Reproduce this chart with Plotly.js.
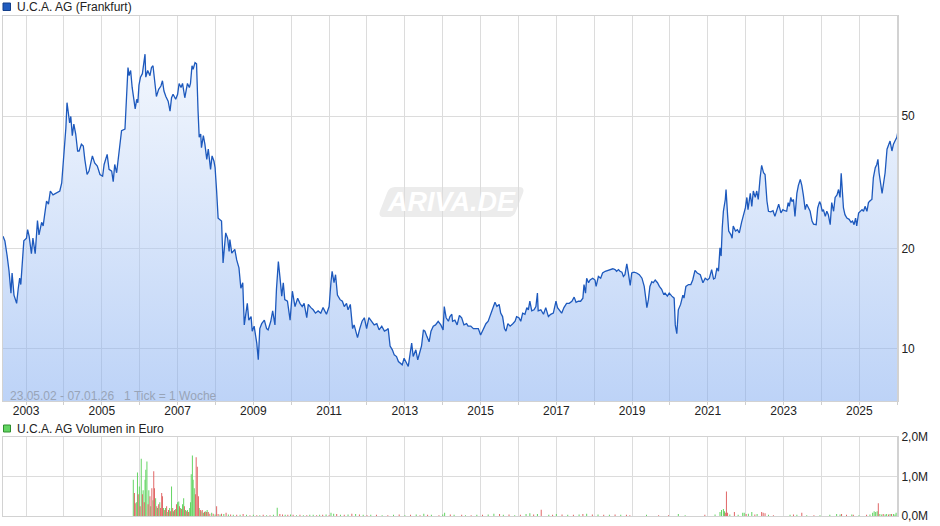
<!DOCTYPE html>
<html>
<head>
<meta charset="utf-8">
<script src="https://cdn.plot.ly/plotly-3.0.1.min.js"></script>
<style>html,body{margin:0;padding:0;background:#fff;}#chart{width:940px;height:526px;}</style>
</head>
<body>
<div id="chart"></div>
<script>
// ---- Data (decimal years, EUR) ----
const priceYears = [
2002.39,2002.44,2002.50,2002.55,2002.60,2002.63,2002.68,2002.75,2002.79,2002.83,
2002.86,2002.90,2002.94,2003.01,2003.04,2003.08,2003.14,2003.18,2003.24,2003.30,
2003.34,2003.41,2003.45,2003.49,2003.54,2003.59,2003.64,2003.71,2003.78,2003.85,
2003.89,2003.94,2003.98,2004.00,2004.05,2004.08,2004.12,2004.15,2004.18,2004.22,
2004.26,2004.31,2004.36,2004.40,2004.46,2004.51,2004.55,2004.61,2004.66,2004.70,
2004.75,2004.81,2004.88,2004.95,2005.02,2005.06,2005.11,2005.14,2005.19,2005.26,
2005.30,2005.34,2005.39,2005.45,2005.49,2005.52,2005.61,2005.65,2005.69,2005.72,
2005.76,2005.80,2005.84,2005.88,2005.92,2005.95,2005.98,2006.02,2006.07,2006.11,
2006.14,2006.16,2006.21,2006.27,2006.31,2006.35,2006.40,2006.44,2006.50,2006.56,
2006.60,2006.64,2006.69,2006.75,2006.80,2006.84,2006.88,2006.95,2007.00,2007.04,
2007.09,2007.13,2007.19,2007.24,2007.26,2007.31,2007.34,2007.38,2007.41,2007.46,
2007.50,2007.54,2007.57,2007.61,2007.63,2007.68,2007.72,2007.77,2007.81,2007.87,
2007.91,2007.96,2007.99,2008.03,2008.07,2008.16,2008.20,2008.27,2008.32,2008.36,
2008.38,2008.43,2008.51,2008.56,2008.62,2008.67,2008.72,2008.76,2008.80,2008.84,
2008.88,2008.94,2008.97,2009.02,2009.09,2009.13,2009.17,2009.22,2009.29,2009.35,
2009.39,2009.46,2009.51,2009.57,2009.61,2009.66,2009.70,2009.75,2009.79,2009.83,
2009.90,2009.97,2010.03,2010.10,2010.17,2010.23,2010.29,2010.34,2010.41,2010.45,
2010.52,2010.58,2010.64,2010.71,2010.78,2010.84,2010.93,2011.00,2011.05,2011.08,
2011.13,2011.17,2011.22,2011.29,2011.35,2011.40,2011.46,2011.50,2011.56,2011.62,
2011.66,2011.70,2011.75,2011.81,2011.87,2011.93,2011.99,2012.05,2012.12,2012.19,
2012.26,2012.32,2012.39,2012.46,2012.52,2012.56,2012.61,2012.67,2012.72,2012.78,
2012.83,2012.87,2012.93,2012.98,2013.05,2013.09,2013.14,2013.18,2013.22,2013.29,
2013.34,2013.40,2013.44,2013.49,2013.53,2013.58,2013.64,2013.69,2013.75,2013.81,
2013.88,2013.95,2014.01,2014.04,2014.09,2014.15,2014.19,2014.24,2014.26,2014.32,
2014.38,2014.44,2014.50,2014.56,2014.63,2014.67,2014.74,2014.81,2014.88,2014.94,
2015.00,2015.07,2015.14,2015.20,2015.27,2015.32,2015.38,2015.43,2015.49,2015.53,
2015.58,2015.63,2015.67,2015.72,2015.78,2015.85,2015.91,2015.95,2016.01,2016.06,
2016.11,2016.17,2016.22,2016.26,2016.30,2016.35,2016.41,2016.46,2016.50,2016.52,
2016.59,2016.66,2016.72,2016.79,2016.85,2016.92,2016.99,2017.03,2017.08,2017.14,
2017.20,2017.27,2017.34,2017.41,2017.47,2017.52,2017.58,2017.64,2017.70,2017.73,
2017.77,2017.80,2017.85,2017.89,2017.96,2018.02,2018.05,2018.11,2018.17,2018.22,
2018.29,2018.35,2018.42,2018.49,2018.55,2018.59,2018.64,2018.68,2018.73,2018.77,
2018.81,2018.86,2018.90,2018.95,2018.99,2019.05,2019.12,2019.19,2019.26,2019.32,
2019.36,2019.39,2019.43,2019.47,2019.52,2019.56,2019.61,2019.67,2019.72,2019.78,
2019.83,2019.87,2019.93,2019.98,2020.05,2020.11,2020.14,2020.18,2020.22,2020.28,
2020.34,2020.37,2020.42,2020.49,2020.55,2020.60,2020.66,2020.72,2020.80,2020.87,
2020.93,2020.99,2021.04,2021.10,2021.15,2021.19,2021.24,2021.28,2021.32,2021.35,
2021.38,2021.41,2021.46,2021.48,2021.52,2021.55,2021.61,2021.64,2021.67,2021.73,
2021.78,2021.83,2021.89,2021.94,2021.99,2022.03,2022.06,2022.12,2022.16,2022.20,
2022.25,2022.29,2022.33,2022.38,2022.42,2022.47,2022.51,2022.56,2022.60,2022.66,
2022.72,2022.77,2022.82,2022.87,2022.93,2022.98,2023.03,2023.08,2023.12,2023.15,
2023.19,2023.22,2023.26,2023.30,2023.35,2023.39,2023.44,2023.48,2023.52,2023.57,
2023.61,2023.66,2023.70,2023.75,2023.79,2023.86,2023.90,2023.95,2023.98,2024.02,
2024.05,2024.10,2024.14,2024.18,2024.23,2024.27,2024.32,2024.36,2024.41,2024.45,
2024.49,2024.52,2024.55,2024.58,2024.62,2024.67,2024.73,2024.78,2024.82,2024.86,
2024.90,2024.93,2024.98,2025.02,2025.07,2025.11,2025.15,2025.20,2025.24,2025.29,
2025.33,2025.37,2025.42,2025.46,2025.49,2025.52,2025.57,2025.60,2025.64,2025.68,
2025.73,2025.77,2025.81,2025.86,2025.90,2025.94,2025.99,2026.02
];
const priceValues = [
21.8,21.1,19.0,17.1,14.7,16.9,14.5,13.7,15.1,16.3,
15.6,17.9,21.1,21.5,22.8,21.8,19.3,21.5,19.3,24.3,
22.0,24.0,23.4,25.3,27.8,27.2,29.8,29.0,29.3,29.5,
29.8,31.5,35.8,38.4,46.1,54.9,49.9,47.7,49.9,43.7,
47.3,44.2,39.3,39.3,41.2,40.7,37.1,33.4,34.2,36.2,
38.0,36.2,35.4,33.4,33.0,35.8,37.1,38.4,34.6,34.2,
31.8,35.8,33.8,38.4,42.1,45.2,45.7,56.8,70.0,66.2,
68.6,61.0,56.8,52.6,56.2,54.9,62.0,65.5,67.1,71.8,
76.8,65.5,68.6,66.2,70.0,70.9,63.9,57.3,60.2,61.6,
63.9,59.5,57.3,55.5,51.8,56.8,58.2,56.2,58.2,62.7,
61.0,62.7,56.8,60.2,62.7,61.0,62.7,70.9,69.2,72.4,
71.8,51.8,43.2,44.2,40.2,43.7,41.2,37.1,39.8,34.6,
38.0,36.6,35.0,29.8,24.7,24.2,18.1,22.3,21.5,19.6,
21.3,19.4,19.9,18.5,17.5,15.2,15.8,11.8,12.8,13.7,
12.2,12.5,11.3,11.7,10.4,9.27,11.5,11.9,12.2,11.5,
11.4,12.1,13.0,11.8,15.1,18.3,16.5,14.4,15.8,14.05,
13.9,12.2,14.9,13.4,14.2,13.7,13.4,13.7,12.4,13.6,
13.3,13.1,12.8,13.0,12.8,13.3,12.7,13.4,15.9,17.1,
15.8,16.7,14.5,14.05,13.9,13.4,13.7,13.1,13.6,11.5,
11.8,11.3,10.8,11.5,12.1,12.4,11.5,12.4,12.1,11.8,
11.9,11.4,11.7,11.3,11.4,11.5,10.2,9.93,9.59,9.48,
9.16,9.06,8.95,9.37,9.06,8.85,9.7,10.4,9.48,9.93,
9.27,9.8,10.2,11.4,11.3,10.9,10.5,11.3,11.7,11.8,
12.1,11.8,11.4,13.4,12.4,12.1,12.5,12.7,12.1,12.2,
11.8,12.6,12.4,11.8,11.9,11.7,11.7,11.5,11.5,11.5,
11.0,11.5,11.9,12.1,12.7,13.1,13.8,13.4,13.6,12.8,
12.5,11.5,11.3,11.9,11.7,11.9,12.1,12.5,12.4,12.1,
12.8,12.7,13.3,13.1,13.9,13.0,13.1,13.4,14.7,13.0,
13.1,12.7,13.3,12.5,12.7,12.8,13.9,13.3,13.1,12.8,
13.3,13.7,13.7,13.9,14.3,13.8,13.9,13.9,14.2,15.6,
14.7,16.3,15.8,16.1,16.3,16.1,15.4,16.5,16.3,16.9,
17.1,17.2,17.3,17.4,17.3,17.1,17.3,17.1,17.0,16.5,
16.7,18.0,16.9,15.5,16.9,17.0,16.9,16.7,16.3,15.4,
14.2,13.3,14.05,15.4,15.9,15.8,16.1,15.8,15.4,15.1,
14.6,14.7,14.4,14.7,14.4,14.2,11.8,11.1,13.1,13.6,
14.5,14.2,15.4,15.6,15.6,16.1,17.2,16.9,16.7,15.8,
16.3,16.1,16.3,17.3,16.2,16.3,17.5,17.1,20.1,19.0,
23.1,25.9,28.1,30.1,25.3,22.6,22.0,21.5,23.4,22.6,
22.8,22.3,24.0,25.3,26.5,28.5,26.2,29.3,26.8,29.8,
28.5,29.8,28.1,32.7,35.6,33.8,33.4,27.8,25.9,25.8,
26.0,25.0,26.2,27.2,25.6,26.2,26.0,25.9,27.5,26.8,
28.5,27.7,28.1,25.0,29.3,31.0,32.3,31.0,29.0,26.2,
27.2,26.5,25.9,24.2,23.7,23.6,26.5,27.7,27.2,25.9,
26.2,25.0,25.9,25.3,23.6,27.5,25.9,28.5,29.0,30.1,
28.5,33.7,29.3,26.5,25.3,24.7,24.5,24.0,24.2,23.6,
24.7,23.4,25.6,25.9,26.2,25.9,26.8,25.9,27.5,27.9,
28.1,32.7,35.0,35.8,37.1,33.8,31.0,29.3,31.5,33.8,
39.8,41.2,42.1,39.3,41.2,42.1,43.2,45.2
];

// Volume in million EUR; weeks with rising price (green) / falling price (red)
const volUpYears = [
2005.83,2005.91,2005.94,2005.99,2006.04,2006.09,2006.14,2006.16,2006.19,2006.24,
2006.29,2006.35,2006.42,2006.47,2006.53,2006.63,2006.68,2006.74,2006.79,2006.84,
2006.89,2006.95,2007.00,2007.03,2007.08,2007.13,2007.16,2007.21,2007.26,2007.32,
2007.34,2007.36,2007.39,2007.41,2007.44,2007.57,2007.62,2007.68,2007.73,2007.78,
2007.90,2007.99,2008.12,2008.22,2008.34,2008.47,2008.65,2008.82,2009.00,2009.17,
2009.35,2009.53,2009.63,2009.84,2009.98,2010.14,2010.32,2010.49,2010.58,2010.75,
2010.92,2011.05,2011.12,2011.30,2011.50,2011.70,2011.90,2012.10,2012.40,2012.70,
2013.00,2013.30,2013.50,2013.70,2014.00,2014.05,2014.30,2014.60,2014.90,2015.20,
2015.35,2015.60,2015.90,2016.20,2016.30,2016.50,2016.80,2017.00,2017.30,2017.60,
2017.80,2018.10,2018.40,2018.70,2019.38,2020.22,2020.40,2021.19,2021.32,2021.36,
2021.41,2021.44,2021.58,2021.80,2021.92,2021.96,2022.07,2022.16,2022.30,2022.60,
2023.17,2023.35,2023.61,2023.96,2024.22,2024.40,2024.49,2024.80,2024.99,2025.28,
2025.35,2025.39,2025.43,2025.47,2025.54,2025.59,2025.68,2025.72,2025.81,2025.90,
2025.94,2025.97
];
const volUpValues = [
0.92,0.35,1.10,0.75,1.45,0.65,0.92,1.17,1.38,0.65,
0.25,0.40,0.45,0.20,0.35,0.20,0.20,0.10,0.20,0.75,
0.12,0.18,0.35,0.37,0.20,0.30,0.45,0.15,0.15,0.20,
0.35,1.06,1.53,0.92,0.70,0.20,0.12,0.08,0.12,0.15,
0.08,0.04,0.04,0.05,0.04,0.03,0.03,0.03,0.03,0.02,
0.02,0.03,0.21,0.03,0.04,0.02,0.02,0.03,0.03,0.03,
0.04,0.08,0.06,0.03,0.04,0.05,0.03,0.03,0.02,0.03,
0.02,0.04,0.06,0.03,0.04,0.08,0.03,0.02,0.03,0.04,
0.06,0.03,0.02,0.05,0.07,0.05,0.03,0.05,0.03,0.04,
0.06,0.04,0.03,0.03,0.03,0.05,0.02,0.04,0.10,0.15,
0.18,0.12,0.04,0.03,0.08,0.08,0.06,0.10,0.05,0.03,
0.03,0.03,0.02,0.02,0.03,0.05,0.04,0.04,0.02,0.04,
0.08,0.12,0.10,0.12,0.05,0.04,0.04,0.05,0.05,0.05,
0.04,0.08
];
const volDownYears = [
2005.86,2005.88,2005.96,2006.01,2006.07,2006.12,2006.22,2006.27,2006.32,2006.37,
2006.39,2006.45,2006.50,2006.55,2006.58,2006.60,2006.66,2006.71,2006.76,2006.81,
2006.87,2006.92,2006.97,2007.05,2007.10,2007.18,2007.24,2007.29,2007.47,2007.49,
2007.52,2007.55,2007.60,2007.65,2007.71,2007.76,2007.81,2007.85,2007.94,2008.03,
2008.07,2008.16,2008.28,2008.40,2008.56,2008.73,2008.91,2009.09,2009.26,2009.44,
2009.70,2009.77,2009.91,2010.05,2010.23,2010.41,2010.67,2010.83,2011.00,2011.20,
2011.40,2011.60,2011.80,2012.00,2012.25,2012.55,2012.85,2013.15,2013.40,2013.60,
2013.90,2014.20,2014.50,2014.75,2015.05,2015.50,2015.75,2016.05,2016.40,2016.60,
2016.90,2017.15,2017.45,2017.70,2017.95,2018.25,2018.55,2018.85,2018.94,2019.70,
2019.96,2020.92,2021.46,2021.49,2021.52,2021.70,2022.01,2022.24,2022.42,2022.46,
2022.51,2022.73,2023.26,2023.48,2023.80,2024.53,2024.66,2024.84,2025.19,2025.50,
2025.63,2025.77,2025.85
];
const volDownValues = [
0.58,0.32,0.55,0.25,0.55,0.35,0.30,0.50,0.70,1.13,
0.70,0.25,0.30,0.20,0.58,0.50,0.15,0.25,0.15,0.12,
0.20,0.15,0.30,0.25,0.18,0.25,0.12,0.10,0.55,1.49,
1.25,0.50,0.15,0.15,0.10,0.10,0.10,0.06,0.06,0.25,
0.05,0.06,0.08,0.04,0.03,0.05,0.02,0.02,0.03,0.02,
0.05,0.04,0.03,0.03,0.03,0.02,0.02,0.03,0.02,0.05,
0.03,0.06,0.04,0.02,0.03,0.02,0.04,0.03,0.02,0.03,
0.02,0.04,0.03,0.02,0.03,0.05,0.04,0.03,0.04,0.16,
0.03,0.04,0.03,0.05,0.04,0.03,0.04,0.03,0.02,0.02,
0.02,0.03,0.08,0.62,0.08,0.10,0.05,0.04,0.10,0.08,
0.07,0.02,0.04,0.08,0.02,0.05,0.03,0.03,0.03,0.32,
0.05,0.04,0.05
];

const priceTicks = [10, 20, 50];
const priceAxisMin = 6.97, priceAxisMax = 100;
const firstLabelYear = 2003;

// ---- Layout helpers (pixel -> paper) ----
const ML = 3, MR = 42, MT = 16, MB = 10, W = 940, H = 526;
const PW = W - ML - MR, PH = H - MT - MB;
const px = x => (x - ML) / PW;
const py = y => (H - MB - y) / PH;

const gridC = '#dcdcdc', lineC = '#d2d2d2';

const traces = [
  {
    x: priceYears, y: priceValues, type: 'scatter', mode: 'lines',
    line: {color: '#1d59bd', width: 1.3},
    fill: 'tozeroy',
    fillgradient: {type: 'vertical', start: priceAxisMin, stop: priceAxisMax,
      colorscale: [[0, 'rgba(123,167,239,0.5)'], [1, 'rgba(241,246,253,0.5)']]},
    xaxis: 'x', yaxis: 'y', hoverinfo: 'skip'
  },
  {
    x: volUpYears, y: volUpValues, type: 'bar', width: 0.026,
    marker: {color: '#62d462', line: {width: 0}},
    xaxis: 'x2', yaxis: 'y2', hoverinfo: 'skip'
  },
  {
    x: volDownYears, y: volDownValues, type: 'bar', width: 0.026,
    marker: {color: '#e06464', line: {width: 0}},
    xaxis: 'x2', yaxis: 'y2', hoverinfo: 'skip'
  }
];

const xRange = [priceYears[0], priceYears[priceYears.length - 1]];
const xCommon = {
  range: xRange, tickmode: 'linear', tick0: firstLabelYear, dtick: 2,
  showgrid: true, gridcolor: gridC, gridwidth: 1, zeroline: false,
  showline: true, linecolor: lineC, linewidth: 1, mirror: true,
  ticks: 'outside', ticklen: 3, tickcolor: '#cfcfcf', ticklabelstandoff: -4,
  minor: {tick0: firstLabelYear, dtick: 1, showgrid: true, gridcolor: gridC, ticks: 'outside', ticklen: 3, tickcolor: '#cfcfcf'},
  tickfont: {size: 12, color: '#222'}, fixedrange: true
};

const wm = [
  [395,187],[519,187],[525,187],[523,193],[516,211],[514,217],[508,217],[384,217],[378,217],[380,211],[387,193],[389,187]
].map(p => [px(p[0]), py(p[1])]);
const wmPath = `M${wm[0]} L${wm[1]} Q${wm[2]} ${wm[3]} L${wm[4]} Q${wm[5]} ${wm[6]} L${wm[7]} Q${wm[8]} ${wm[9]} L${wm[10]} Q${wm[11]} ${wm[0]} Z`.replace(/(\d),(\d|-)/g, '$1 $2');

const layout = {
  width: W, height: H,
  margin: {l: ML, r: MR, t: MT, b: MB, pad: 0},
  paper_bgcolor: '#ffffff', plot_bgcolor: '#ffffff',
  showlegend: false, barmode: 'overlay', separators: ',.',
  font: {family: 'Arial, "Liberation Sans", sans-serif', size: 12, color: '#222'},
  xaxis: Object.assign({}, xCommon, {domain: [0, 1], anchor: 'y'}),
  yaxis: {
    domain: [py(401), 1], type: 'log', range: [Math.log10(priceAxisMin), Math.log10(priceAxisMax)],
    tickmode: 'array', tickvals: priceTicks, side: 'right',
    showgrid: true, gridcolor: gridC, zeroline: false,
    showline: true, linecolor: lineC, linewidth: 1, mirror: true,
    ticks: '', tickfont: {size: 12, color: '#222'}, fixedrange: true
  },
  xaxis2: Object.assign({}, xCommon, {domain: [0, 1], anchor: 'y2', showticklabels: false, ticks: '', minor: {tick0: firstLabelYear, dtick: 1, showgrid: true, gridcolor: gridC, ticks: ''}}),
  yaxis2: {
    domain: [0, py(437)], range: [0, 2], dtick: 1, tick0: 0, tickformat: '.1f', ticksuffix: 'M',
    side: 'right', showgrid: true, gridcolor: gridC, zeroline: false,
    showline: true, linecolor: lineC, linewidth: 1, mirror: true,
    ticks: '', tickfont: {size: 12, color: '#222'}, fixedrange: true
  },
  shapes: [
    {type: 'path', xref: 'paper', yref: 'paper', path: wmPath, fillcolor: '#ececec', line: {width: 0}, layer: 'below'},
    {type: 'rect', xref: 'paper', yref: 'paper', x0: px(3), x1: px(10.5), y0: py(10.5), y1: py(3), fillcolor: '#1f5bbf', line: {color: '#123e8a', width: 1}},
    {type: 'rect', xref: 'paper', yref: 'paper', x0: px(3.5), x1: px(10.5), y0: py(432), y1: py(425), fillcolor: '#62d462', line: {color: '#2f8f2f', width: 1}},
    {type: 'line', xref: 'paper', yref: 'paper', x0: 1, x1: 1, y0: py(401), y1: 1, line: {color: lineC, width: 2}},
    {type: 'line', xref: 'paper', yref: 'paper', x0: 1, x1: 1, y0: 0, y1: py(437), line: {color: lineC, width: 2}}
  ],
  annotations: [
    {xref: 'paper', yref: 'paper', x: px(15), y: py(7), xanchor: 'left', yanchor: 'middle', showarrow: false,
     text: 'U.C.A. AG (Frankfurt)', font: {size: 12, color: '#222'}},
    {xref: 'paper', yref: 'paper', x: px(15), y: py(428.5), xanchor: 'left', yanchor: 'middle', showarrow: false,
     text: 'U.C.A. AG Volumen in Euro', font: {size: 12, color: '#222'}},
    {xref: 'paper', yref: 'paper', x: px(8), y: py(395.5), xanchor: 'left', yanchor: 'middle', showarrow: false,
     text: '23.05.02 - 07.01.26   1 Tick = 1 Woche', font: {size: 12, color: '#98a4b8'}},
    {xref: 'paper', yref: 'paper', x: px(451), y: py(202), xanchor: 'center', yanchor: 'middle', showarrow: false,
     text: 'ARIVA.DE', font: {size: 27, color: '#ffffff', weight: 'bold', style: 'italic', family: 'Arial, "Liberation Sans", sans-serif'}}
  ]
};

Plotly.newPlot('chart', traces, layout, {staticPlot: true, displayModeBar: false});
</script>
</body>
</html>
